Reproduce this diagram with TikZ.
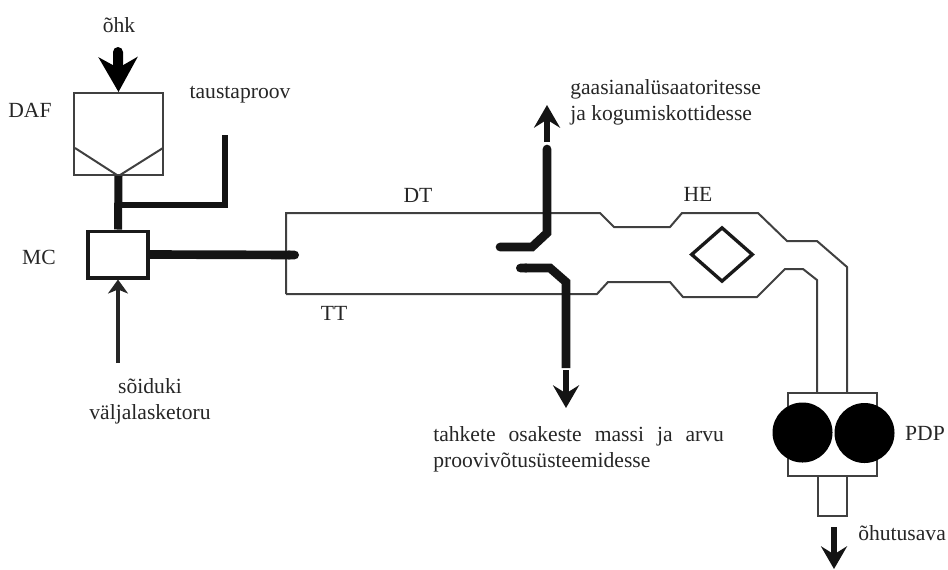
\documentclass[tikz,border=0pt]{standalone}
\usepackage{fontspec}
\setmainfont{Liberation Serif}
\usepackage{tikz}
\usetikzlibrary{arrows.meta,shapes.geometric}

\begin{document}
\begin{tikzpicture}[x=0.75pt, y=-0.75pt,
      every node/.append style={font=\fontsize{16.2}{19.5}\selectfont,color=black!85,inner sep=0pt},
      line join=miter]
    \tikzstyle{vessel} = [draw=black!75,line width=1.5pt,minimum width=66.5pt,minimum height=61.5pt]
    \tikzstyle{mixer} = [draw=black!90,line width=2.5pt,minimum width=45pt,minimum height=35pt]
    \tikzstyle{lobe} = [fill=black,circle,minimum size=45pt]
    \tikzstyle{pump} = [draw=black!75,line width=1.6pt,minimum width=67pt,minimum height=62pt]
    \tikzstyle{wall} = [draw=black!75,line width=1.5pt]
    \tikzstyle{pipe} = [draw=black!92,line width=6.5pt,line cap=round]
    \tikzstyle{thinpipe} = [draw=black!92,line width=3.8pt]
    \tikzstyle{flow} = [draw=black!92,line width=5pt,-{Stealth[length=17pt,width=19.5pt,inset=6pt]}]
    \useasboundingbox (0,0) rectangle (948,569);
    \node (air) at (119,25) {õhk};
    \node (DAF) at (118.5,134) [vessel] {};
    \node (DAFlabel) at (30,110) {DAF};
    \node (bglabel) at (240,95) {taustaproov};
    \node (MC) at (118,254.5) [mixer] {};
    \node (MClabel) at (39,257) {MC};
    \node (exhaust) at (150,401) [align=center] {sõiduki\\väljalasketoru};
    \node (DT) at (418,195) {DT};
    \node (TT) at (334,313) {TT};
    \node (HE) at (698,194) {HE};
    \node (HEcore) at (722,254.5) [draw=black!90,line width=2.5pt,diamond,minimum width=46.5pt,minimum height=41pt,aspect=1] {};
    \node (gas) at (570,102) [anchor=west,align=left] {gaasianalüsaatoritesse\\ja kogumiskottidesse};
    \node (pm) at (433,449) [anchor=west,align=left] {\makebox[218pt][s]{tahkete osakeste massi ja arvu}\\proovivõtusüsteemidesse};
    \node (PDP) at (832.5,434.5) [pump] {};
    \node (lobeL) at (802.5,432.5) [lobe] {};
    \node (lobeR) at (864.5,433) [lobe] {};
    \node (PDPlabel) at (925,433) {PDP};
    \node (vent) at (858,533) [anchor=west] {õhutusava};
    \coordinate (airstart) at (118,52);
    \coordinate (hopL) at (75,148);
    \coordinate (hopR) at (163,148);
    \coordinate (branch) at (118,205);
    \coordinate (bgcorner) at (225,205);
    \coordinate (bgend) at (225,135);
    \coordinate (exhauststart) at (118,363);
    \coordinate (probe) at (299,255);
    \coordinate (gasA) at (500,247);
    \coordinate (gasB) at (532,247);
    \coordinate (gasC) at (547,233);
    \coordinate (gasD) at (547,149);
    \coordinate (gasE) at (547,142);
    \coordinate (gasF) at (547,105);
    \coordinate (pmA) at (516,268);
    \coordinate (pmB) at (550,268);
    \coordinate (pmC) at (566,282);
    \coordinate (pmE) at (566,368);
    \coordinate (pmF) at (566,370);
    \coordinate (pmD) at (566,408);
    \coordinate (ventA) at (834,527);
    \coordinate (ventB) at (834,569);
    \draw [line width=7.5pt,line cap=round,-{Stealth[length=26pt,width=29pt,inset=8pt]}] (airstart) -- (DAF.north);
    \draw [wall] (hopL) -- (DAF.south) -- (hopR);
    \draw [line width=6pt,draw=black!92] (DAF.south) -- (MC.north);
    \draw [thinpipe] (branch) -- (bgcorner) -- (bgend);
    \draw [draw=black!85,line width=2.6pt,-{Stealth[length=10.5pt,width=15pt,inset=3pt]}] (exhauststart) -- (MC.south);
    \draw [wall] (286,294) -- (286,213) -- (600,213) -- (614,227) -- (670,227) -- (682,213) -- (758,213)
      -- (787,241) -- (817,241) -- (847,267) -- (847,393);
    \draw [wall] (286,294) -- (597,294) -- (608,282) -- (670,282) -- (683,297) -- (757,297)
      -- (785,269) -- (803,269) -- (817,280) -- (817,393);
    \draw [wall] (818,476) -- (818,516) -- (847,516) -- (847,476);
    \draw [pipe,line cap=butt,-{Round Cap}] (MC.east) -- (probe);
    \draw [pipe] (gasA) -- (gasB) -- (gasC) -- (gasD);
    \draw [flow] (gasE) -- (gasF);
    \draw [pipe,line cap=butt,{Round Cap}-] (pmA) -- (pmB) -- (pmC) -- (pmE);
    \draw [flow] (pmF) -- (pmD);
    \draw [flow] (ventA) -- (ventB);
  \end{tikzpicture}
\end{document}
